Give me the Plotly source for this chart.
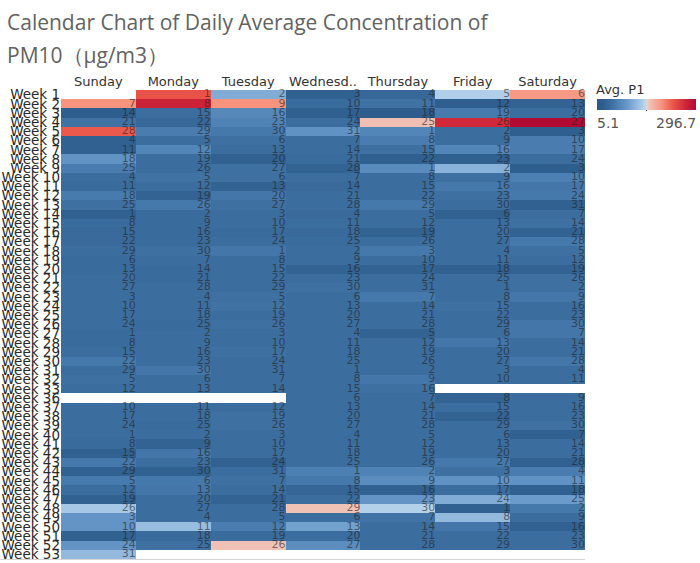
import plotly.graph_objects as go
from datetime import date, timedelta

# ---------------- data ----------------
day_names = ["Sunday", "Monday", "Tuesday", "Wednesday", "Thursday", "Friday", "Saturday"]
day_ticks = ["Sunday", "Monday", "Tuesday", "Wednesd..", "Thursday", "Friday", "Saturday"]
weeks = list(range(1, 34)) + list(range(36, 54))
week_labels = [f"Week {w}" for w in weeks]

N = None
# daily average PM10 (Avg. P1), rows = weeks, columns = Sunday..Saturday
pm10 = [
    [N, 232, 110, 28, 38, 140, 190],     # W1
    [195, 268, 195, 42, 50, 24, 30],     # W2
    [22, 45, 75, 26, 20, 60, 45],        # W3
    [50, 38, 68, 45, 162, 262, 296.7],   # W4
    [228, 62, 58, 85, 72, 45, 25],       # W5
    [28, 45, 48, 45, 62, 45, 62],        # W6
    [28, 72, 45, 45, 48, 72, 62],        # W7
    [85, 45, 28, 42, 26, 26, 45],        # W8
    [62, 45, 48, 30, 78, 115, 25],       # W9
    [45, 50, 48, 45, 45, 48, 65],        # W10
    [42, 45, 30, 40, 45, 58, 55],        # W11
    [60, 30, 55, 45, 45, 48, 58],        # W12
    [48, 58, 48, 45, 58, 45, 28],        # W13
    [28, 42, 45, 40, 45, 28, 45],        # W14
    [42, 42, 45, 45, 45, 45, 48],        # W15
    [40, 42, 42, 40, 30, 45, 30],        # W16
    [40, 42, 45, 42, 45, 45, 58],        # W17
    [45, 48, 55, 45, 58, 45, 48],        # W18
    [42, 45, 45, 45, 45, 45, 45],        # W19
    [42, 42, 45, 30, 30, 28, 30],        # W20
    [45, 42, 45, 45, 45, 45, 48],        # W21
    [45, 45, 45, 48, 45, 45, 48],        # W22
    [45, 45, 48, 45, 58, 45, 55],        # W23
    [45, 45, 50, 45, 45, 48, 45],        # W24
    [45, 45, 45, 45, 45, 45, 45],        # W25
    [45, 42, 48, 45, 45, 45, 55],        # W26
    [42, 45, 45, 45, 30, 45, 55],        # W27
    [42, 45, 45, 45, 45, 55, 45],        # W28
    [45, 45, 48, 45, 45, 45, 45],        # W29
    [58, 45, 45, 45, 45, 45, 55],        # W30
    [45, 55, 45, 45, 45, 45, 45],        # W31
    [48, 45, 45, 45, 55, 45, 45],        # W32
    [45, 45, 45, 45, 48, N, N],          # W33
    [N, N, N, 45, 45, 30, 45],           # W36
    [45, 45, 45, 45, 45, 45, 45],        # W37
    [45, 45, 48, 45, 45, 30, 45],        # W38
    [45, 42, 48, 45, 45, 45, 48],        # W39
    [45, 45, 45, 45, 45, 45, 28],        # W40
    [42, 30, 45, 45, 45, 45, 45],        # W41
    [28, 55, 45, 45, 45, 45, 45],        # W42
    [58, 45, 28, 45, 45, 58, 28],        # W43
    [28, 28, 45, 65, 68, 48, 62],        # W44
    [60, 58, 48, 58, 80, 85, 85],        # W45
    [45, 55, 45, 35, 28, 45, 28],        # W46
    [28, 45, 30, 45, 88, 110, 95],       # W47
    [135, 45, 45, 160, 142, 28, 58],     # W48
    [88, 45, 45, 45, 52, 122, 45],       # W49
    [88, 125, 62, 100, 45, 55, 28],      # W50
    [28, 42, 42, 45, 45, 45, 45],        # W51
    [88, 48, 160, 80, 45, 45, 45],       # W52
    [122, N, N, N, N, N, N],             # W53
]
zmin, zmax = 5.1, 296.7


def day_of_month(week, wd):
    year = 2018 if week <= 33 else 2017
    jan1 = date(year, 1, 1)
    offset = (jan1.weekday() + 1) % 7  # Sunday-based weekday of Jan 1
    return (jan1 + timedelta(days=(week - 1) * 7 + wd - offset)).day


# ---------------- colours ----------------
def pos(v):
    return (v - zmin) / (zmax - zmin)

colorscale = [
    [0.0, "#2a5686"],
    [pos(25), "#2f5f8f"],
    [pos(45), "#3c6d9f"],
    [pos(65), "#4c7fb2"],
    [pos(95), "#6a9bcb"],
    [pos(135), "#a6c8e6"],
    [pos(150), "#c4dbee"],
    [pos(152), "#f3cdc3"],
    [pos(162), "#efbfb3"],
    [pos(195), "#f8937d"],
    [pos(230), "#ea5549"],
    [pos(265), "#cf2539"],
    [1.0, "#b30a33"],
]

rows = list(range(len(weeks)))
cols = list(range(7))

tx, ty, tt = [], [], []
for r, w in enumerate(weeks):
    for c in cols:
        if pm10[r][c] is not None:
            tx.append(c + 0.5)
            ty.append(r)
            tt.append(str(day_of_month(w, c)))

fig = go.Figure()
fig.add_trace(go.Heatmap(
    z=pm10, x=cols, y=rows,
    colorscale=colorscale, zmin=zmin, zmax=zmax,
    xgap=0, ygap=0, hoverongaps=False,
    colorbar=dict(
        orientation="h", x=1.117, xanchor="center", y=0.981, yanchor="top",
        len=0.189, lenmode="fraction", thickness=11, xpad=0, ypad=0,
        outlinewidth=0, showticklabels=False, ticks="",
    ),
))
fig.add_trace(go.Scatter(
    x=tx, y=ty, text=tt, mode="text", textposition="middle left",
    textfont=dict(family="DejaVu Sans", size=11, color="rgba(35,35,35,0.62)"),
    hoverinfo="skip", showlegend=False, cliponaxis=False,
))

fig.update_layout(
    width=700, height=563,
    margin=dict(l=61, r=115, t=90, b=1),
    paper_bgcolor="white", plot_bgcolor="white",
    showlegend=False,
    xaxis=dict(
        range=[-0.5, 6.5], side="top", tickmode="array", tickvals=cols, ticktext=day_ticks,
        showgrid=False, zeroline=False, showline=False, ticks="",
        tickfont=dict(family="DejaVu Sans", size=13, color="#333333"),
        fixedrange=True,
    ),
    yaxis=dict(
        range=[len(weeks) - 0.5, -0.5], tickmode="array", tickvals=rows, ticktext=week_labels,
        showgrid=False, zeroline=False, showline=False, ticks="", ticklabelstandoff=0,
        ticklabeloverflow="allow",
        tickfont=dict(family="DejaVu Sans", size=13.5, color="#2a2a2a"),
        fixedrange=True,
    ),
    annotations=[
        dict(text="Calendar Chart of Daily Average Concentration of", xref="paper", yref="paper",
             x=-0.107, y=1.146, xanchor="left", yanchor="middle", showarrow=False,
             font=dict(family="Open Sans", size=21, color="#626262")),
        dict(text="PM10（μg/m3）", xref="paper", yref="paper",
             x=-0.107, y=1.074, xanchor="left", yanchor="middle", showarrow=False,
             font=dict(family="Open Sans", size=21, color="#626262")),
        dict(text="Avg. P1", xref="paper", yref="paper",
             x=(594 - 61) / 524, y=1 + (90 - 89) / 472, xanchor="left", yanchor="middle",
             showarrow=False, font=dict(family="DejaVu Sans", size=13, color="#333333")),
        dict(text="5.1", xref="paper", yref="paper",
             x=(595 - 61) / 524, y=1 + (90 - 123) / 472, xanchor="left", yanchor="middle",
             showarrow=False, font=dict(family="DejaVu Sans", size=14, color="#555555")),
        dict(text="296.7", xref="paper", yref="paper",
             x=(698 - 61) / 524, y=1 + (90 - 123) / 472, xanchor="right", yanchor="middle",
             showarrow=False, font=dict(family="DejaVu Sans", size=14, color="#555555")),
    ],
    shapes=[
        dict(type="line", xref="paper", yref="paper", x0=-61 / 524, x1=1.0, y0=-0.001, y1=-0.001,
             line=dict(color="#d4d4d4", width=1)),
        dict(type="line", xref="paper", yref="paper",
             x0=(646.5 - 61) / 524, x1=(646.5 - 61) / 524,
             y0=1 + (90 - 108) / 472, y1=1 + (90 - 111) / 472,
             line=dict(color="#333333", width=1)),
    ],
)

fig.write_html(
    "out.html",
    config={"displayModeBar": False},
    post_script="document.body.style.margin='0';document.body.style.padding='0';"
                "document.documentElement.style.overflow='hidden';",
)
